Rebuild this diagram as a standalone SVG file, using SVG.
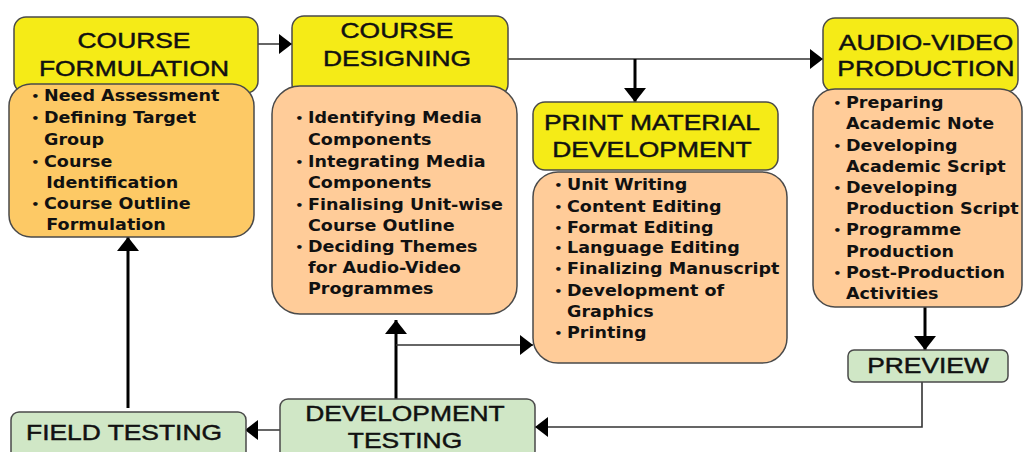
<svg xmlns="http://www.w3.org/2000/svg" width="1025" height="452" viewBox="0 0 1025 452">
<style>
.hdr{fill:#F5EB17;stroke:#4a4a4a;stroke-width:1.5}
.bodyO{fill:#FDC965;stroke:#4a4a4a;stroke-width:1.5}
.bodyP{fill:#FFCC99;stroke:#4a4a4a;stroke-width:1.5}
.grn{fill:#D0E7C6;stroke:#4a4a4a;stroke-width:1.5}
.ht{font-family:"Liberation Sans",Arial,sans-serif;font-size:22px;fill:#111;stroke:#111;stroke-width:0.45;text-anchor:middle}
.bt{font-family:"DejaVu Sans",Verdana,sans-serif;font-weight:bold;font-size:15px;fill:#111}
.bu{font-family:"DejaVu Sans",Verdana,sans-serif;font-weight:bold;font-size:11px;fill:#111}
.thin{fill:none;stroke:#333;stroke-width:1.6}
.thick{fill:none;stroke:#000;stroke-width:3}
</style>
<defs>
<marker id="ah" viewBox="0 0 13 20" refX="13" refY="10" markerWidth="13" markerHeight="20" markerUnits="userSpaceOnUse" orient="auto">
<path d="M0,0 L13,10 L0,20 z" fill="#000"/>
</marker>
<marker id="ahT" viewBox="0 0 14 22" refX="14" refY="11" markerWidth="14" markerHeight="22" markerUnits="userSpaceOnUse" orient="auto">
<path d="M0,0 L14,11 L0,22 z" fill="#000"/>
</marker>
</defs>

<g id="connectors">
<path class="thin" d="M258,44 H292" marker-end="url(#ah)"/>
<path class="thin" d="M508,59 H823" marker-end="url(#ah)"/>
<path class="thick" d="M635,59 V102" marker-end="url(#ahT)"/>
<path class="thick" d="M925,307 V350" marker-end="url(#ahT)"/>
<path class="thin" d="M922,382 V427 H535" marker-end="url(#ah)"/>
<path class="thin" d="M280,430 H245" marker-end="url(#ah)"/>
<path class="thick" d="M128,408 V237" marker-end="url(#ahT)"/>
<path class="thick" d="M396,399 V320" marker-end="url(#ahT)"/>
<path class="thin" d="M396,345 H533" marker-end="url(#ah)"/>
</g>

<g id="course-formulation">
<rect class="hdr" x="14" y="17" width="244" height="76" rx="12"/>
<rect class="bodyO" x="9" y="84" width="245" height="153" rx="22"/>
<text class="ht" transform="translate(134,48) scale(1.2,1)">COURSE</text>
<text class="ht" transform="translate(134,76) scale(1.2,1)">FORMULATION</text>
<g transform="translate(44,0) scale(1.17,1)">
<text class="bu" x="-11" y="100">•</text>
<text class="bt" x="0" y="101">Need Assessment</text>
<text class="bu" x="-11" y="122">•</text>
<text class="bt" x="0" y="123">Defining Target</text>
<text class="bt" x="0" y="145">Group</text>
<text class="bu" x="-11" y="166">•</text>
<text class="bt" x="0" y="167">Course</text>
<text class="bt" x="2" y="188">Identification</text>
<text class="bu" x="-11" y="208">•</text>
<text class="bt" x="0" y="209">Course Outline</text>
<text class="bt" x="2" y="230">Formulation</text>
</g>
</g>

<g id="course-designing">
<rect class="hdr" x="292" y="16" width="216" height="80" rx="12"/>
<rect class="bodyP" x="272" y="86" width="245" height="228" rx="28"/>
<text class="ht" transform="translate(397,38) scale(1.2,1)">COURSE</text>
<text class="ht" transform="translate(397,66) scale(1.2,1)">DESIGNING</text>
<g transform="translate(308,0) scale(1.17,1)">
<text class="bu" x="-11" y="122">•</text>
<text class="bt" x="0" y="123">Identifying Media</text>
<text class="bt" x="0" y="145">Components</text>
<text class="bu" x="-11" y="166">•</text>
<text class="bt" x="0" y="167">Integrating Media</text>
<text class="bt" x="0" y="188">Components</text>
<text class="bu" x="-11" y="209">•</text>
<text class="bt" x="0" y="210">Finalising Unit-wise</text>
<text class="bt" x="0" y="231">Course Outline</text>
<text class="bu" x="-11" y="251">•</text>
<text class="bt" x="0" y="252">Deciding Themes</text>
<text class="bt" x="0" y="273">for Audio-Video</text>
<text class="bt" x="0" y="294">Programmes</text>
</g>
</g>

<g id="print-material-development">
<rect class="hdr" x="533" y="102" width="245" height="68" rx="12"/>
<rect class="bodyP" x="533" y="172" width="254" height="191" rx="25"/>
<text class="ht" transform="translate(652,130) scale(1.2,1)">PRINT MATERIAL</text>
<text class="ht" transform="translate(652,157) scale(1.2,1)">DEVELOPMENT</text>
<g transform="translate(567,0) scale(1.17,1)">
<text class="bu" x="-11" y="189">•</text>
<text class="bt" x="0" y="190">Unit Writing</text>
<text class="bu" x="-11" y="211">•</text>
<text class="bt" x="0" y="212">Content Editing</text>
<text class="bu" x="-11" y="232">•</text>
<text class="bt" x="0" y="233">Format Editing</text>
<text class="bu" x="-11" y="252">•</text>
<text class="bt" x="0" y="253">Language Editing</text>
<text class="bu" x="-11" y="273">•</text>
<text class="bt" x="0" y="274">Finalizing Manuscript</text>
<text class="bu" x="-11" y="295">•</text>
<text class="bt" x="0" y="296">Development of</text>
<text class="bt" x="0" y="317">Graphics</text>
<text class="bu" x="-11" y="337">•</text>
<text class="bt" x="0" y="338">Printing</text>
</g>
</g>

<g id="audio-video-production">
<rect class="hdr" x="823" y="18" width="195" height="74" rx="12"/>
<rect class="bodyP" x="813" y="89" width="209" height="218" rx="22"/>
<text class="ht" transform="translate(926,50) scale(1.2,1)">AUDIO-VIDEO</text>
<text class="ht" transform="translate(926,76) scale(1.2,1)">PRODUCTION</text>
<g transform="translate(846,0) scale(1.17,1)">
<text class="bu" x="-11" y="107">•</text>
<text class="bt" x="0" y="108">Preparing</text>
<text class="bt" x="0" y="129">Academic Note</text>
<text class="bu" x="-11" y="150">•</text>
<text class="bt" x="0" y="151">Developing</text>
<text class="bt" x="0" y="172">Academic Script</text>
<text class="bu" x="-11" y="192">•</text>
<text class="bt" x="0" y="193">Developing</text>
<text class="bt" x="0" y="214">Production Script</text>
<text class="bu" x="-11" y="234">•</text>
<text class="bt" x="0" y="235">Programme</text>
<text class="bt" x="0" y="257">Production</text>
<text class="bu" x="-11" y="277">•</text>
<text class="bt" x="0" y="278">Post-Production</text>
<text class="bt" x="0" y="299">Activities</text>
</g>
</g>

<g id="preview">
<rect class="grn" x="848" y="350" width="160" height="32" rx="6"/>
<text class="ht" transform="translate(928,373) scale(1.2,1)">PREVIEW</text>
</g>

<g id="development-testing">
<rect class="grn" x="280" y="399" width="255" height="60" rx="8"/>
<text class="ht" transform="translate(405,421) scale(1.2,1)">DEVELOPMENT</text>
<text class="ht" transform="translate(405,448) scale(1.2,1)">TESTING</text>
</g>

<g id="field-testing">
<rect class="grn" x="11" y="412" width="235" height="50" rx="8"/>
<text class="ht" transform="translate(124,440) scale(1.2,1)">FIELD TESTING</text>
</g>
</svg>
